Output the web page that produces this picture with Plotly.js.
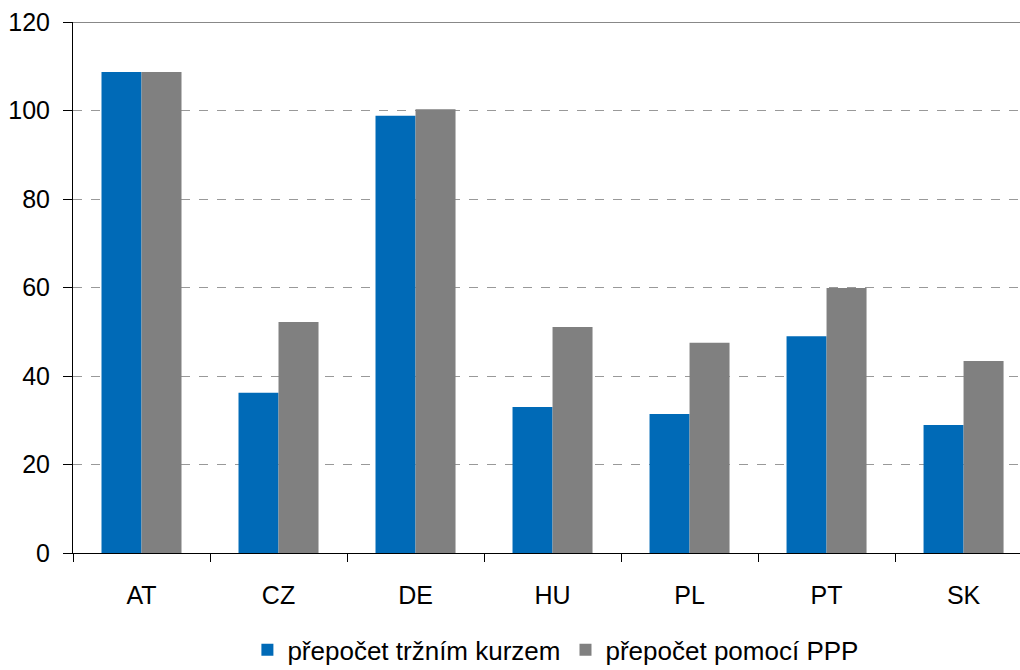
<!DOCTYPE html>
<html><head><meta charset="utf-8">
<script src="https://cdn.plot.ly/plotly-3.0.1.min.js"></script>
<style>html,body{margin:0;padding:0;background:#fff}</style>
</head><body>
<div id="chart" style="width:1020px;height:670px"></div>
<script>
const categories = ["AT","CZ","DE","HU","PL","PT","SK"];
const seriesNames = ["přepočet tržním kurzem","přepočet pomocí PPP"];
const marketRate = [108.7, 36.2, 98.8, 33.0, 31.4, 49.0, 28.9];
const pppRate = [108.7, 52.2, 100.3, 51.1, 47.5, 59.9, 43.4];
const yTicks = [0, 20, 40, 60, 80, 100, 120];

const font = {family: "Liberation Sans, Arial, sans-serif", size: 25, color: "#000"};
const traces = [
  {type:"bar", x:categories, y:marketRate, name:seriesNames[0], marker:{color:"#006AB7"}},
  {type:"bar", x:categories, y:pppRate, name:seriesNames[1], marker:{color:"#808080"}}
];
const yMax = yTicks[yTicks.length-1];
const layout = {
  width:1020, height:670,
  margin:{l:73, r:0, t:22, b:117, autoexpand:false},
  paper_bgcolor:"#fff", plot_bgcolor:"#fff",
  font: font,
  barmode:"group", bargap:0.416, bargroupgap:0,
  showlegend:true,
  legend:{orientation:"h", xref:"container", yref:"container", x:0.545, xanchor:"center",
          y:0.03, yanchor:"middle",
          font:{family:font.family, size:26, color:"#000"}, itemwidth:20, traceorder:"normal"},
  xaxis:{type:"category", range:[-0.5, 6.412], showline:true, linecolor:"#000", linewidth:1,
         ticks:"outside", tickson:"boundaries", ticklen:8, tickcolor:"#000", tickwidth:1,
         showgrid:false, zeroline:false, ticklabelstandoff:20, tickfont:font, automargin:false},
  yaxis:{range:[0, yMax], tickvals:yTicks, ticktext:yTicks.map(String), showline:true,
         linecolor:"#000", linewidth:1, ticks:"outside", ticklen:9, tickcolor:"#000",
         showgrid:true, gridcolor:"#999", griddash:"dash", gridwidth:1, zeroline:false,
         ticklabelstandoff:8, tickfont:font, automargin:false},
  shapes:[{type:"line", xref:"paper", x0:0, x1:1, yref:"y", y0:yMax, y1:yMax,
           line:{color:"#888", width:2}}]
};
Plotly.newPlot("chart", traces, layout, {displayModeBar:false, staticPlot:true});
</script>
</body></html>
